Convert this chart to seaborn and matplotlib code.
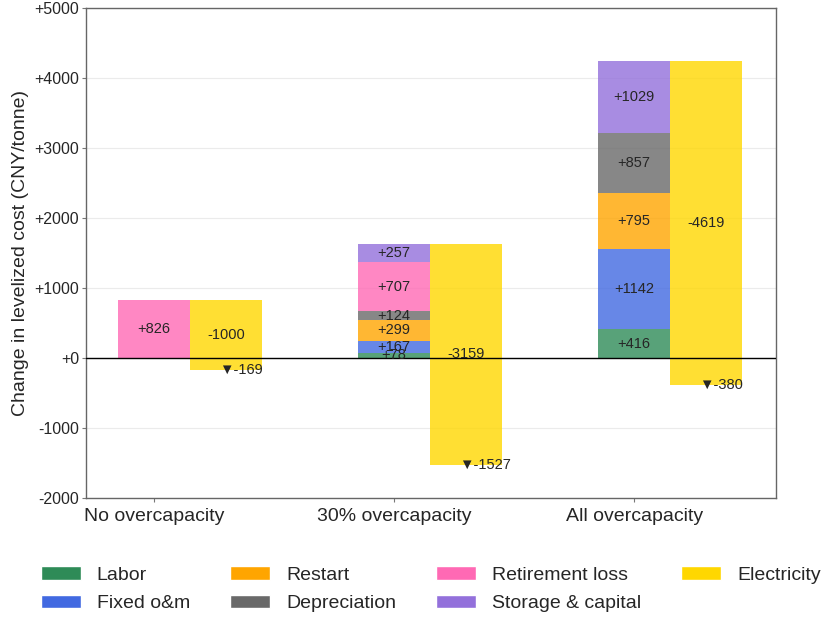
import numpy as np
import matplotlib
matplotlib.use("Agg")
import matplotlib.pyplot as plt
import seaborn as sns
from matplotlib.patches import Patch

# ── Data ───────────────────────────────────────────
scenarios   = ["No overcapacity", "30% overcapacity", "All overcapacity"]
components  = ["Labor", "Fixed o&m", "Restart", "Depreciation",
               "Retirement loss", "Storage & capital"]
labor       = [0, 78, 416]
fixed_om    = [0, 167, 1142]
restart     = [0, 299, 795]
depreciation = [0, 124, 857]
retirement  = [826, 707, 0]
storage     = [0, 257, 1029]
electricity = [-1000, -3159, -4619]
net_change  = [-169, -1527, -380]
yticks      = [-2000, -1000, 0, 1000, 2000, 3000, 4000, 5000]

colors = {"Labor": "#2E8B57", "Fixed o&m": "#4169E1", "Restart": "#FFA500",
          "Depreciation": "#696969", "Retirement loss": "#FF69B4",
          "Storage & capital": "#9370DB", "Electricity": "#FFD700"}

sns.set_style("ticks")
plt.rcParams["font.family"] = ["Liberation Sans", "DejaVu Sans"]

fig = plt.figure(figsize=(8.21, 6.18), dpi=100)
ax = fig.add_axes([0.105, 0.194, 0.84, 0.793])

W = 0.3
x = np.arange(len(scenarios))
stack = [labor, fixed_om, restart, depreciation, retirement, storage]

# ── Positive components (stacked) ──────────────────
bottom = np.zeros(len(scenarios))
for name, vals in zip(components, stack):
    vals = np.array(vals, dtype=float)
    ax.bar(x, vals, width=W, bottom=bottom, color=colors[name],
           alpha=0.8, linewidth=0, zorder=2)
    for i, v in enumerate(vals):
        if v > 0:
            ax.text(x[i], bottom[i] + v / 2, f"+{int(v)}", ha="center",
                    va="center", fontsize=10.5, zorder=4)
    bottom += vals

# ── Electricity (offset bar) ───────────────────────
tops = bottom
for i in range(len(scenarios)):
    ax.bar(x[i] + W, net_change[i] - tops[i], width=W, bottom=tops[i],
           color=colors["Electricity"], alpha=0.8, linewidth=0, zorder=2)
    mid = (tops[i] + net_change[i]) / 2
    ax.text(x[i] + W, mid, f"{electricity[i]}", ha="center", va="center",
            fontsize=10.5, zorder=4)
    ax.text(x[i] + W - 0.028, net_change[i], f"▼-{abs(net_change[i])}",
            ha="left", va="center", fontsize=10.5, zorder=4)

ax.axhline(0, color="black", linewidth=1, zorder=3)

ax.set_xlim(-0.283, 2.59)
ax.set_ylim(-2000, 5000)
ax.set_xticks(x)
ax.set_xticklabels(scenarios, fontsize=14)
ax.set_yticks(yticks)
ax.set_yticklabels([f"+{t}" if t >= 0 else f"{t}" for t in yticks],
                   fontsize=11.5)
ax.set_ylabel("Change in levelized cost (CNY/tonne)", fontsize=14)
ax.yaxis.grid(True, color="#ebebeb", linewidth=0.8, zorder=0)
ax.set_axisbelow(True)
ax.tick_params(length=3, color="#777777", pad=2)
ax.tick_params(axis="x", pad=4)
for s in ax.spines.values():
    s.set_color("#666666")
    s.set_linewidth(1.0)

# ── Legend ─────────────────────────────────────────
handles = [Patch(facecolor=colors[n], label=n)
           for n in components + ["Electricity"]]
fig.legend(handles=handles, loc="upper left",
           bbox_to_anchor=(0.04, 0.096), ncol=4, frameon=False, fontsize=14,
           handlelength=2.06, handleheight=0.7, handletextpad=0.82,
           columnspacing=2.06, labelspacing=0.55, borderaxespad=0)

plt.savefig("out.png", dpi=100)
